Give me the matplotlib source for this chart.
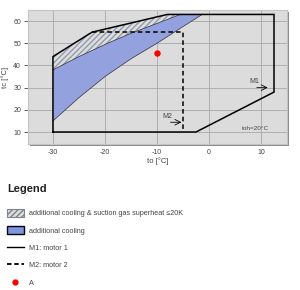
import matplotlib.pyplot as plt
import matplotlib.patches as mpatches
from matplotlib.lines import Line2D

plt.rcParams['font.family'] = ['Liberation Sans', 'DejaVu Sans']
plt.rcParams['axes.unicode_minus'] = False

# envelope motor 1 (solid)
m1_to = [-30, -30, -22.5, -8, 12.5, 12.5, -2.5, -30]
m1_tc = [10, 44, 55, 63, 63, 28, 10, 10]

# envelope motor 2 (dashed)
m2_to = [-22.5, -5, -5]
m2_tc = [55, 55, 10]

# border between hatched area and additional cooling area
sep_to = [-30, -25, -19.5, -15, -10.5, -5.5]
sep_tc = [38, 44, 50, 54.5, 58.5, 63]

# lower border of additional cooling area
low_to = [-30, -25, -20, -15, -10, -5, -1.3]
low_tc = [15, 25.5, 35, 43, 50, 57.5, 63]

# operating point A
pt_to = [-10]
pt_tc = [45.5]

x_ticks = [-30, -20, -10, 0, 10]
y_ticks = [10, 20, 30, 40, 50, 60]

legend_labels = ['additional cooling & suction gas superheat \u226420K',
                 'additional cooling', 'M1: motor 1', 'M2: motor 2', 'A']

txt_col = '#444444'
blue = '#93a1de'
hatch_bg = '#e2dfca'
hatch_fg = '#8a98d0'

fig = plt.figure(figsize=(3.0, 2.9), dpi=100)

# panel shadow
ax_pos = [28 / 300, 1 - 144 / 290, 259 / 300, 134 / 290]
shadow = mpatches.Rectangle((ax_pos[0] + 2 / 300, ax_pos[1] - 2 / 290), ax_pos[2], ax_pos[3],
                            transform=fig.transFigure, facecolor='#8a8a8a', edgecolor='none', zorder=-5)
fig.patches.append(shadow)

ax = fig.add_axes(ax_pos)
ax.set_facecolor('#dcdcdc')
ax.set_xlim(-34.8, 15)
ax.set_ylim(4.6, 65)
ax.set_xticks(x_ticks)
ax.set_yticks(y_ticks)
ax.grid(True, color='#a8a8a8', lw=0.6)
ax.set_axisbelow(True)
for s in ax.spines.values():
    s.set_color('#c4c4c4')
    s.set_linewidth(0.8)
ax.tick_params(axis='both', labelsize=5, colors=txt_col, width=0.6)
ax.tick_params(axis='y', length=3, pad=2)
ax.tick_params(axis='x', length=0, pad=3.5)

# hatched area: outer envelope down to the separator
hat_x = [-30, -30, -22.5, -8] + sep_to[::-1]
hat_y = [38, 44, 55, 63] + sep_tc[::-1]
ax.fill(hat_x, hat_y, facecolor=hatch_bg, edgecolor=hatch_fg, hatch='//////', lw=0, zorder=2)
# additional cooling area
blue_x = sep_to + low_to[::-1]
blue_y = sep_tc + low_tc[::-1]
ax.fill(blue_x, blue_y, facecolor=blue, edgecolor='none', zorder=2)
ax.plot(sep_to, sep_tc, color='#333333', lw=0.5, zorder=3)
ax.plot(low_to, low_tc, color='#333333', lw=0.5, zorder=3)

ax.plot(m1_to, m1_tc, color='black', lw=1.1, zorder=4, solid_joinstyle='miter')
ax.plot(m2_to, m2_tc, color='black', lw=1.1, ls=(0, (3, 2)), zorder=4)
ax.plot(pt_to, pt_tc, 'o', color='red', ms=3.6, zorder=5)

# annotations
ax.annotate('', xy=(11.3, 30), xytext=(9.2, 30),
            arrowprops=dict(arrowstyle='->', color='black', lw=0.6, shrinkA=0, shrinkB=0))
ax.text(7.8, 32.3, 'M1', fontsize=5, color=txt_col)
ax.annotate('', xy=(-5.3, 14.4), xytext=(-7.4, 14.4),
            arrowprops=dict(arrowstyle='->', color='black', lw=0.6, shrinkA=0, shrinkB=0))
ax.text(-9.0, 16.3, 'M2', fontsize=5, color=txt_col)
ax.text(6.3, 11.8, 'toh=20\u00b0C', fontsize=4.6, color=txt_col, va='center')

ax.set_xlabel('to [\u00b0C]', fontsize=5.5, color=txt_col, labelpad=1)
ax.set_ylabel('tc [\u00b0C]', fontsize=5.5, color=txt_col, labelpad=3)

# legend
handles = [
    mpatches.Patch(facecolor=hatch_bg, edgecolor='#7a80a0', hatch='//////', lw=0.8),
    mpatches.Patch(facecolor='#7f95e0', edgecolor='black', lw=1),
    Line2D([], [], color='black', lw=1),
    Line2D([], [], color='black', lw=1.3, ls=(0, (2.5, 1.5))),
    Line2D([], [], ls='none', marker='o', color='red', ms=3.5),
]
fig.text(7 / 300, 1 - 189 / 290, 'Legend', fontsize=8, fontweight='bold', color='#222222', va='center')
leg = fig.legend(handles, legend_labels, loc='upper left', bbox_to_anchor=(4 / 300, 1 - 206 / 290),
                 frameon=False, fontsize=5.2, handlelength=2.3, handleheight=1.3,
                 handletextpad=0.8, labelspacing=1.25, borderaxespad=0)
for t in leg.get_texts():
    t.set_color(txt_col)

fig.savefig('out.png', dpi=100)
